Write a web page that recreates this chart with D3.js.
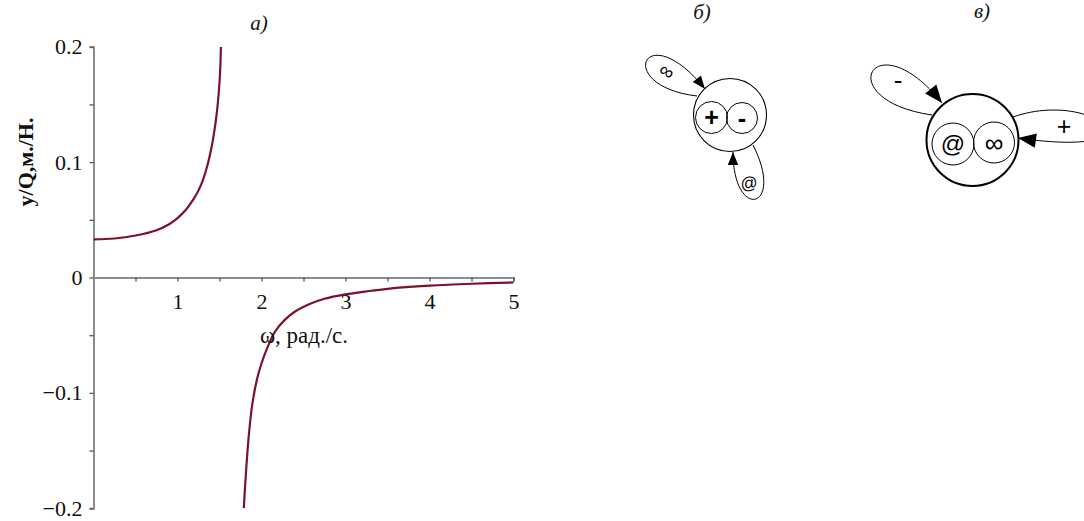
<!DOCTYPE html>
<html>
<head>
<meta charset="utf-8">
<script src="https://cdn.jsdelivr.net/npm/d3@7"></script>
<style>
  html, body { margin: 0; padding: 0; background: #fff; }
  svg { display: block; }
</style>
</head>
<body>
<svg id="fig" width="1084" height="521"></svg>
<script>
// Frequency response y/Q versus ω: branch below resonance
const omegaLow = [0, 0.25, 0.5, 0.75, 0.9, 1.0, 1.1, 1.2, 1.25, 1.3, 1.35, 1.4, 1.43, 1.46, 1.48, 1.50, 1.51, 1.517];
const yLow     = [0.0330, 0.0338, 0.0364, 0.0410, 0.0462, 0.0515, 0.0587, 0.0690, 0.0755, 0.0840, 0.0955, 0.1110, 0.1230, 0.1380, 0.1510, 0.1690, 0.1830, 0.2000];
// branch above resonance
const omegaHigh = [1.79, 1.80, 1.82, 1.85, 1.89, 1.95, 2.0, 2.06, 2.16, 2.28, 2.4, 2.58, 2.75, 3.0, 3.25, 3.5, 4.0, 4.5, 5.0];
const yHigh     = [-0.200, -0.186, -0.164, -0.136, -0.110, -0.087, -0.0745, -0.0625, -0.0470, -0.0365, -0.0295, -0.0228, -0.0184, -0.0146, -0.0120, -0.0098, -0.0071, -0.0054, -0.0043];

const xTicks = [0.5, 1, 1.5, 2, 2.5, 3, 3.5, 4, 4.5, 5];
const xTickLabels = [1, 2, 3, 4, 5];
const yTicks = [-0.2, -0.15, -0.1, -0.05, 0, 0.05, 0.1, 0.15, 0.2];
const yTickLabels = [-0.2, -0.1, 0, 0.1, 0.2];

const panelTitles = ["а)", "б)", "в)"];
const xTitle = "ω, рад./с.";
const yTitle = "у/Q,м./Н.";

// Sign graphs: outer node, inner sub-nodes and self-loops
const graphB = {
  outer: { cx: 730, cy: 115, r: 36.5, w: 1.1 },
  inner: [ { cx: 711.5, cy: 117.5, r: 16, text: "+", size: 25 },
           { cx: 742, cy: 118, r: 15.5, text: "-", size: 25 } ],
  loops: [ { d: [[697, 96], [612, 86], [645, 14], [705, 89]], label: "∞", lx: 667, ly: 71, rot: 32, size: 20, arrow: 13 },
           { d: [[753, 145], [786, 210], [733, 222], [733, 152]], label: "@", lx: 749, ly: 183, rot: -8, size: 17, arrow: 13 } ]
};
const graphV = {
  outer: { cx: 972.5, cy: 140, r: 46, w: 2 },
  inner: [ { cx: 953, cy: 144, r: 21, text: "@", size: 24 },
           { cx: 994, cy: 142.5, r: 20.5, text: "∞", size: 26 } ],
  loops: [ { d: [[932, 115], [828, 100], [874, 18], [942, 103]], label: "-", lx: 898, ly: 80, rot: 0, size: 26, arrow: 18 },
           { d: [[1013, 117], [1095, 88], [1170, 160], [1018, 138]], label: "+", lx: 1064, ly: 126, rot: 0, size: 25, arrow: 18 } ]
};

const svg = d3.select("#fig");

const x = d3.scaleLinear().domain([0, 5]).range([93.5, 513.5]);
const y = d3.scaleLinear().domain([-0.2, 0.2]).range([508.3, 46.7]);

const serif = "'Liberation Serif', 'Times New Roman', serif";
const sans = "'Liberation Sans', Arial, sans-serif";
const fmt = d3.format(".1~f");

// x axis through y = 0
const gx = svg.append("g")
  .attr("transform", `translate(0,${y(0)})`)
  .call(d3.axisBottom(x).tickValues(xTicks).tickSize(4).tickPadding(12)
    .tickFormat(d => xTickLabels.includes(d) ? String(d) : ""));
gx.select(".domain").attr("stroke", "#8c8c8c").attr("stroke-width", 2);
gx.selectAll(".tick line").attr("stroke", "#555").attr("stroke-width", 1.3);
gx.selectAll(".tick text").attr("font-family", serif).attr("font-size", 22).attr("fill", "#111");

// y axis at ω = 0
const gy = svg.append("g")
  .attr("transform", `translate(${x(0)},0)`)
  .call(d3.axisLeft(y).tickValues(yTicks).tickSize(4).tickPadding(7)
    .tickFormat(d => yTickLabels.some(v => Math.abs(v - d) < 1e-9) ? (Math.abs(d) < 1e-9 ? "0" : fmt(d)) : ""));
gy.select(".domain").attr("stroke", "#8c8c8c").attr("stroke-width", 2);
gy.selectAll(".tick line").attr("stroke", "#555").attr("stroke-width", 1.3);
gy.selectAll(".tick text").attr("font-family", serif).attr("font-size", 22).attr("fill", "#111");

// curve
svg.append("defs").append("clipPath").attr("id", "plotClip")
  .append("rect").attr("x", x(0)).attr("y", y(0.2)).attr("width", x(5) - x(0) + 2).attr("height", y(-0.2) - y(0.2));

const line = d3.line().x(d => x(d[0])).y(d => y(d[1])).curve(d3.curveCatmullRom.alpha(0.5));
const branches = [d3.zip(omegaLow, yLow), d3.zip(omegaHigh, yHigh)];
svg.append("g").attr("clip-path", "url(#plotClip)")
  .selectAll("path").data(branches).join("path")
  .attr("d", line).attr("fill", "none").attr("stroke", "#7d1128").attr("stroke-width", 2.2);

// axis titles
svg.append("text").attr("x", 304).attr("y", 343).attr("text-anchor", "middle")
  .attr("font-family", serif).attr("font-size", 23).attr("fill", "#111").text(xTitle);
svg.append("text").attr("transform", "translate(33,162) rotate(-90)").attr("text-anchor", "middle")
  .attr("font-family", serif).attr("font-size", 22).attr("font-weight", "bold").attr("fill", "#111").text(yTitle);

// panel titles
const titlePos = [[259, 30], [702, 19], [982, 18]];
svg.selectAll("text.ptitle").data(panelTitles).join("text").attr("class", "ptitle")
  .attr("x", (d, i) => titlePos[i][0]).attr("y", (d, i) => titlePos[i][1]).attr("text-anchor", "middle")
  .attr("font-family", serif).attr("font-style", "italic").attr("font-size", 21).attr("fill", "#111").text(d => d);

// sign graphs
function drawGraph(g) {
  const grp = svg.append("g");
  grp.append("circle").attr("cx", g.outer.cx).attr("cy", g.outer.cy).attr("r", g.outer.r)
    .attr("fill", "none").attr("stroke", "#000").attr("stroke-width", g.outer.w);
  grp.selectAll("circle.in").data(g.inner).join("circle").attr("class", "in")
    .attr("cx", d => d.cx).attr("cy", d => d.cy).attr("r", d => d.r)
    .attr("fill", "none").attr("stroke", "#000").attr("stroke-width", 1);
  grp.selectAll("text.in").data(g.inner).join("text").attr("class", "in")
    .attr("x", d => d.cx).attr("y", d => d.cy).attr("dy", "0.35em").attr("text-anchor", "middle")
    .attr("font-family", sans).attr("font-weight", d => (d.text === "+" || d.text === "-") ? "bold" : "normal")
    .attr("font-size", d => d.size).attr("fill", "#000").text(d => d.text);
  g.loops.forEach(lp => {
    const [p0, p1, p2, p3] = lp.d;
    const path = d3.path();
    path.moveTo(p0[0], p0[1]);
    path.bezierCurveTo(p1[0], p1[1], p2[0], p2[1], p3[0], p3[1]);
    const ang = Math.atan2(p3[1] - p2[1], p3[0] - p2[0]);
    grp.append("path").attr("d", path.toString()).attr("fill", "none").attr("stroke", "#000").attr("stroke-width", 1);
    const L = lp.arrow, W = L * 0.4;
    const bx = p3[0] - L * Math.cos(ang), by = p3[1] - L * Math.sin(ang);
    const nx = -Math.sin(ang), ny = Math.cos(ang);
    grp.append("path")
      .attr("d", `M${p3[0]},${p3[1]}L${bx + nx * W},${by + ny * W}L${bx - nx * W},${by - ny * W}Z`)
      .attr("fill", "#000");
    grp.append("text").attr("transform", `translate(${lp.lx},${lp.ly}) rotate(${lp.rot})`)
      .attr("dy", "0.35em").attr("text-anchor", "middle")
      .attr("font-family", sans).attr("font-size", lp.size).attr("fill", "#000").text(lp.label);
  });
}
drawGraph(graphB);
drawGraph(graphV);
</script>
</body>
</html>
